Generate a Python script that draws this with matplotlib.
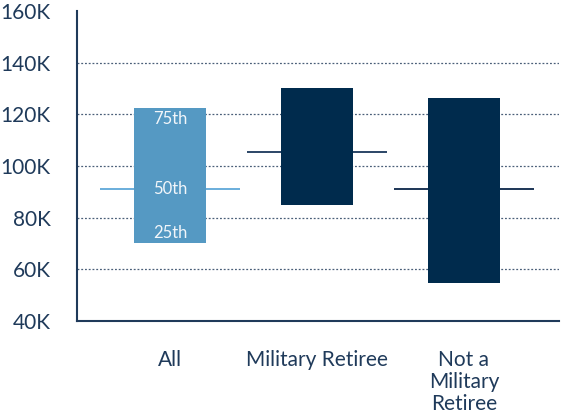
import matplotlib.pyplot as plt
import numpy as np

plt.rcParams['font.family'] = ['Lato', 'DejaVu Sans']

# Percentile ranges (in thousands of dollars)
categories = ['All', 'Military Retiree', 'Not a\nMilitary\nRetiree']
p25 = [70.2, 84.9, 54.6]
p50 = [91.2, 105.4, 91.2]
p75 = [122.5, 130.3, 126.4]
yticks = [40, 60, 80, 100, 120, 140, 160]

box_colors = ['#5599c3', '#002b4d', '#002b4d']
median_colors = ['#6aaedc', '#2b4566', '#1c3556']
text_color = '#1f3a5a'

fig = plt.figure(figsize=(5.64, 4.15), dpi=100)
ax = fig.add_axes([0.1365, 0.2277, 0.8545, 0.7446])

x = np.arange(len(categories))
for i in x:
    # median line runs across the whole slot, box drawn over it
    ax.hlines(p50[i], i - 0.475, i + 0.475, color=median_colors[i], lw=1.4, zorder=2)
    ax.bar(i, p75[i] - p25[i], bottom=p25[i], width=0.49,
           color=box_colors[i], zorder=3)

# percentile labels on the first box
ax.text(0, p75[0] - 1.0, '75th', color='#f2f6fa', ha='center', va='top', fontsize=12, zorder=4)
ax.text(0, p50[0], '50th', color='#f2f6fa', ha='center', va='center', fontsize=12, zorder=4)
ax.text(0, p25[0] + 0.5, '25th', color='#f2f6fa', ha='center', va='bottom', fontsize=12, zorder=4)

ax.set_xlim(-0.633, 2.646)
ax.set_ylim(40, 160)
ax.set_yticks(yticks)
ax.set_yticklabels([f'{v}K' for v in yticks])
ax.set_xticks(x)
ax.set_xticklabels(categories, linespacing=1.15)

for v in yticks[1:-1]:
    ax.axhline(v, color='#4a5f78', lw=0.9, ls=(0, (1.5, 1.5)), zorder=1)

for s in ['top', 'right']:
    ax.spines[s].set_visible(False)
ax.spines['left'].set_color('#1f3a5a')
ax.spines['bottom'].set_color('#1f3a5a')
ax.spines['left'].set_linewidth(1.5)
ax.spines['bottom'].set_linewidth(1.5)

ax.tick_params(axis='y', length=0, pad=19, labelsize=15, labelcolor=text_color)
ax.tick_params(axis='x', length=0, pad=21, labelsize=15, labelcolor=text_color)
for lab in ax.get_xticklabels():
    lab.set_verticalalignment('top')

fig.savefig('out.png', dpi=100)
